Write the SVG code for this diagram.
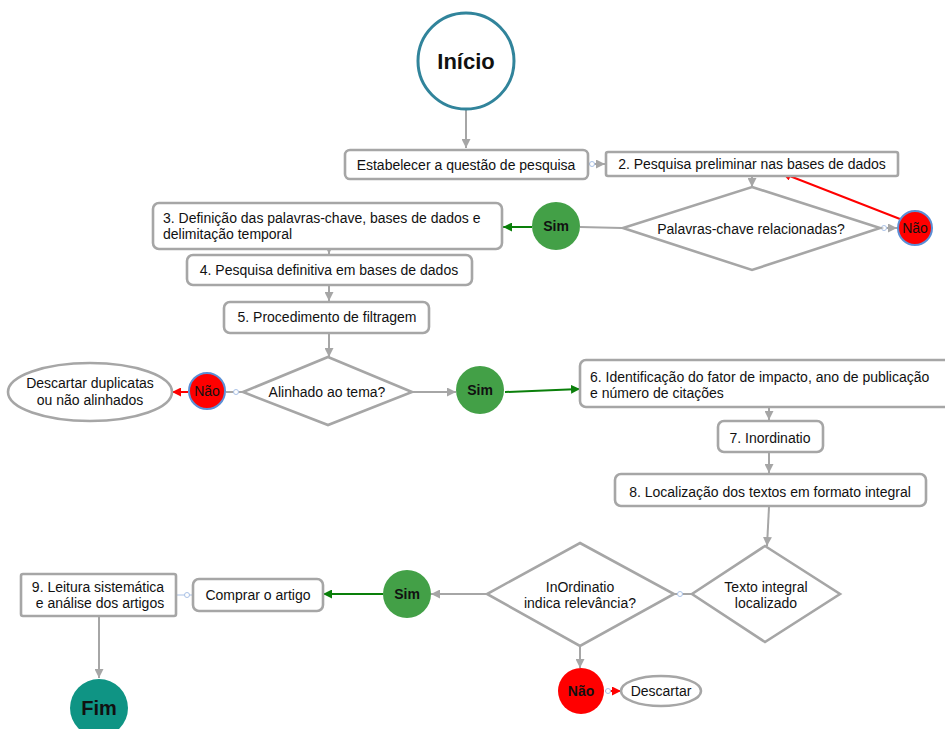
<svg xmlns="http://www.w3.org/2000/svg" width="945" height="729" viewBox="0 0 945 729">
<style>
text{font-family:"Liberation Sans",Arial,sans-serif;font-size:14px;fill:#111}
.box{fill:#fff;stroke:#a6a6a6;stroke-width:2.6}
.dia{fill:#fff;stroke:#a6a6a6;stroke-width:2.6}
.c{stroke:#a6a6a6;stroke-width:2;fill:none}
.r{stroke:#ff0000;stroke-width:2;fill:none}
.g{stroke:#0a7f0a;stroke-width:2;fill:none}
.dot{fill:#fff;stroke:#a9c1e6;stroke-width:1}
.m{text-anchor:middle}
.b{font-weight:bold}
</style>
<defs>
<marker id="ag" viewBox="0 0 10 10" refX="10" refY="5" markerWidth="9" markerHeight="9" markerUnits="userSpaceOnUse" orient="auto"><path d="M0,0 L10,5 L0,10 z" fill="#a6a6a6"/></marker>
<marker id="ar" viewBox="0 0 10 10" refX="10" refY="5" markerWidth="9" markerHeight="9" markerUnits="userSpaceOnUse" orient="auto"><path d="M0,0 L10,5 L0,10 z" fill="#ff0000"/></marker>
<marker id="agr" viewBox="0 0 10 10" refX="10" refY="5" markerWidth="9" markerHeight="9" markerUnits="userSpaceOnUse" orient="auto"><path d="M0,0 L10,5 L0,10 z" fill="#0a7f0a"/></marker>
</defs>

<g id="connectors">
<line class="c" x1="466" y1="110" x2="466" y2="148" marker-end="url(#ag)"/>
<line class="c" x1="589" y1="164" x2="605" y2="164" marker-end="url(#ag)"/>
<circle class="dot" cx="592" cy="164" r="2.5"/>
<line class="c" x1="752" y1="177" x2="752" y2="187" marker-end="url(#ag)"/>
<line class="c" x1="880" y1="228" x2="897" y2="228" marker-end="url(#ag)"/>
<circle class="dot" cx="884" cy="228" r="2.5"/>
<line class="r" x1="900" y1="219" x2="782" y2="173" marker-end="url(#ar)"/>
<line class="c" x1="622" y1="228" x2="580" y2="227"/>
<line class="g" x1="532" y1="227" x2="503" y2="227" marker-end="url(#agr)"/>
<line class="c" x1="329" y1="250" x2="329" y2="254" marker-end="url(#ag)"/>
<line class="c" x1="329" y1="286" x2="329" y2="301" marker-end="url(#ag)"/>
<line class="c" x1="329" y1="333" x2="329" y2="357" marker-end="url(#ag)"/>
<line class="c" x1="243" y1="392" x2="226" y2="392"/>
<circle class="dot" cx="236" cy="392" r="2.5"/>
<line class="r" x1="188" y1="392" x2="172" y2="392" marker-end="url(#ar)"/>
<line class="c" x1="412" y1="392" x2="456" y2="392" marker-end="url(#ag)"/>
<line class="g" x1="505" y1="392" x2="580" y2="389" marker-end="url(#agr)"/>
<line class="c" x1="769" y1="408" x2="769" y2="420" marker-end="url(#ag)"/>
<line class="c" x1="769" y1="452" x2="769" y2="473" marker-end="url(#ag)"/>
<line class="c" x1="769" y1="507" x2="767" y2="546" marker-end="url(#ag)"/>
<line class="c" x1="692" y1="594" x2="674" y2="594"/>
<circle class="dot" cx="680" cy="594" r="2.5"/>
<line class="c" x1="487" y1="594" x2="431" y2="594" marker-end="url(#ag)"/>
<line class="g" x1="383" y1="594" x2="323" y2="594" marker-end="url(#agr)"/>
<line x1="193" y1="595" x2="176" y2="595" stroke="#a9c1e6" stroke-width="1"/>
<circle class="dot" cx="187" cy="595" r="2.5"/>
<line class="c" x1="99" y1="617" x2="99" y2="678" marker-end="url(#ag)"/>
<line class="c" x1="580" y1="646" x2="580" y2="668" marker-end="url(#ag)"/>
<line class="r" x1="605" y1="691" x2="621" y2="691" marker-end="url(#ar)"/>
<circle class="dot" cx="608" cy="691" r="2.5"/>
</g>

<g id="inicio">
<circle cx="466" cy="61" r="48" fill="#fff" stroke="#31849b" stroke-width="3"/>
<text class="m b" x="466" y="69" style="font-size:22px">Início</text>
</g>
<g id="n1">
<rect class="box" x="345" y="150" width="243" height="29" rx="5"/>
<text class="m" x="466" y="170">Estabelecer a questão de pesquisa</text>
</g>
<g id="n2">
<rect class="box" x="606" y="152" width="292" height="24" rx="2"/>
<text class="m" x="752" y="169">2. Pesquisa preliminar nas bases de dados</text>
</g>
<g id="d1">
<polygon class="dia" points="752,187 880,228 752,270 623,228"/>
<text class="m" x="751" y="234">Palavras-chave relacionadas?</text>
</g>
<g id="nao1">
<circle cx="915" cy="228" r="17" fill="#ff0000" stroke="#5b8fd6" stroke-width="2"/>
<text class="m" x="915" y="233">Não</text>
</g>
<g id="sim1">
<circle cx="556" cy="226" r="24" fill="#43a047"/>
<text class="m b" x="556" y="231">Sim</text>
</g>
<g id="n3">
<rect class="box" x="153" y="203" width="349" height="46" rx="6"/>
<text x="163" y="223">3. Definição das palavras-chave, bases de dados e</text>
<text x="163" y="239">delimitação temporal</text>
</g>
<g id="n4">
<rect class="box" x="187" y="255" width="285" height="30" rx="6"/>
<text class="m" x="329" y="275">4. Pesquisa definitiva em bases de dados</text>
</g>
<g id="n5">
<rect class="box" x="224" y="302" width="205" height="31" rx="6"/>
<text class="m" x="327" y="322">5. Procedimento de filtragem</text>
</g>
<g id="d2">
<polygon class="dia" points="328,357 412,392 328,425 243,392"/>
<text class="m" x="327" y="397">Alinhado ao tema?</text>
</g>
<g id="nao2">
<circle cx="207" cy="391" r="18" fill="#ff0000" stroke="#5b8fd6" stroke-width="2"/>
<text class="m" x="207" y="396">Não</text>
</g>
<g id="descartar1">
<ellipse cx="90" cy="392" rx="82" ry="29" fill="#fff" stroke="#a6a6a6" stroke-width="2.6"/>
<text class="m" x="90" y="388">Descartar duplicatas</text>
<text class="m" x="90" y="405">ou não alinhados</text>
</g>
<g id="sim2">
<circle cx="480" cy="390" r="24" fill="#43a047"/>
<text class="m b" x="480" y="395">Sim</text>
</g>
<g id="n6">
<rect class="box" x="580" y="360" width="372" height="47" rx="6"/>
<text x="590" y="382">6. Identificação do fator de impacto, ano de publicação</text>
<text x="590" y="398">e número de citações</text>
</g>
<g id="n7">
<rect class="box" x="718" y="421" width="105" height="31" rx="6"/>
<text class="m" x="770" y="443">7. Inordinatio</text>
</g>
<g id="n8">
<rect class="box" x="615" y="474" width="311" height="32" rx="6"/>
<text class="m" x="770" y="497">8. Localização dos textos em formato integral</text>
</g>
<g id="d3">
<polygon class="dia" points="765,546 840,594 765,642 692,594"/>
<text class="m" x="766" y="592">Texto integral</text>
<text class="m" x="766" y="608">localizado</text>
</g>
<g id="d4">
<polygon class="dia" points="580,543 674,594 580,646 487,594"/>
<text class="m" x="580" y="592">InOrdinatio</text>
<text class="m" x="580" y="608">indica relevância?</text>
</g>
<g id="sim3">
<circle cx="407" cy="594" r="24" fill="#43a047"/>
<text class="m b" x="407" y="599">Sim</text>
</g>
<g id="comprar">
<rect class="box" x="193" y="579" width="130" height="32" rx="6"/>
<text class="m" x="258" y="600">Comprar o artigo</text>
</g>
<g id="n9">
<rect class="box" x="21" y="574" width="155" height="42" rx="2"/>
<text class="m" x="98" y="592">9. Leitura sistemática</text>
<text class="m" x="100" y="608">e análise dos artigos</text>
</g>
<g id="fim">
<circle cx="99" cy="708" r="29" fill="#0f9484"/>
<text class="m b" x="99" y="715" style="font-size:20px">Fim</text>
</g>
<g id="nao3">
<circle cx="581" cy="691" r="23" fill="#ff0000"/>
<text class="m b" x="581" y="696">Não</text>
</g>
<g id="descartar2">
<ellipse cx="661" cy="691" rx="40" ry="15" fill="#fff" stroke="#a6a6a6" stroke-width="2.6"/>
<text class="m" x="661" y="696">Descartar</text>
</g>
</svg>
